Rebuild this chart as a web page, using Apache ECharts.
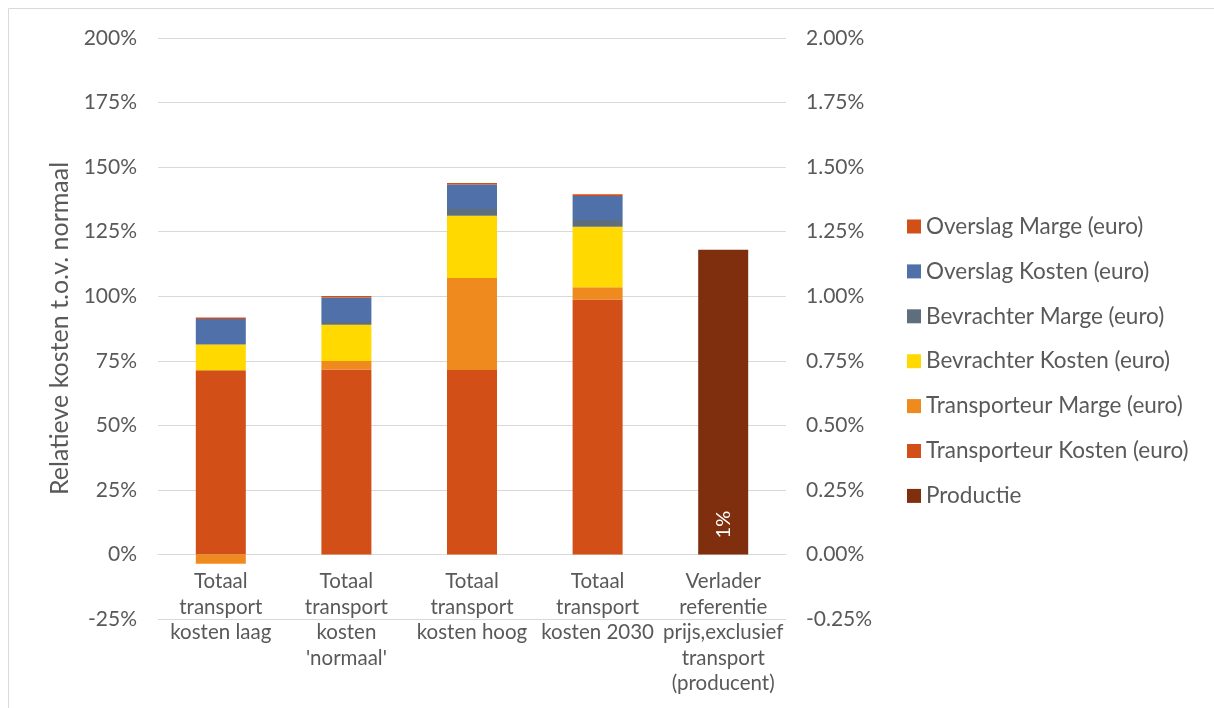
<!DOCTYPE html>
<html>
<head>
    <meta charset="utf-8">
    <title>Relatieve kosten t.o.v. normaal</title>
    <script src="https://cdn.jsdelivr.net/npm/echarts@6/dist/echarts.min.js"></script>
    <style>
        html, body { margin: 0; padding: 0; background: #fff; }
        #main { width: 1214px; height: 708px; }
    </style>
</head>
<body>
<div id="main"></div>
<script>
    // categorieen
    var categories = [
        'Totaal\ntransport\nkosten laag',
        "Totaal\ntransport\nkosten\n'normaal'",
        'Totaal\ntransport\nkosten hoog',
        'Totaal\ntransport\nkosten 2030',
        'Verlader\nreferentie\nprijs,exclusief\ntransport\n(producent)'
    ];
    // waarden in % (linker as)
    var transporteurKosten = [71.3, 71.6, 71.4, 98.7, null];
    var transporteurMarge = [-3.6, 3.3, 35.7, 4.8, null];
    var bevrachterKosten = [10.0, 14.1, 24.1, 23.4, null];
    var bevrachterMarge = [0.2, 1.0, 2.6, 2.6, null];
    var overslagKosten = [9.7, 9.5, 9.5, 9.3, null];
    var overslagMarge = [0.6, 0.6, 0.5, 0.7, null];
    // productie in % (rechter as)
    var productie = [null, null, null, null, 1.18];

    var leftTicks = { min: -25, max: 200, interval: 25 };
    var rightTicks = { min: -0.25, max: 2, interval: 0.25 };

    var fontFam = 'Lato, "Liberation Sans", sans-serif';
    var txt = '#595959';

    function stackBar(name, data, color) {
        return {
            name: name,
            type: 'bar',
            stack: 'kosten',
            yAxisIndex: 0,
            barWidth: 50,
            barGap: '-100%',
            itemStyle: { color: color },
            data: data
        };
    }

    var myChart = echarts.init(document.getElementById('main'));
    var option = {
        animation: false,
        textStyle: { fontFamily: fontFam },
        graphic: [{
            type: 'rect',
            shape: { x: 8.5, y: 8.5, width: 1230, height: 730 },
            style: { fill: 'none', stroke: '#d9d9d9', lineWidth: 1 },
            silent: true
        }],
        grid: { left: 158, right: 428, top: 38, bottom: 89, containLabel: false, outerBoundsMode: 'none' },
        legend: {
            orient: 'vertical',
            left: 902,
            top: 210,
            itemWidth: 14,
            itemHeight: 14,
            itemGap: 21.9,
            icon: 'rect',
            textStyle: { color: txt, fontSize: 22.5, fontFamily: fontFam, lineHeight: 22 },
            data: ['Overslag Marge (euro)', 'Overslag Kosten (euro)', 'Bevrachter Marge (euro)',
                'Bevrachter Kosten (euro)', 'Transporteur Marge (euro)', 'Transporteur Kosten (euro)', 'Productie']
        },
        xAxis: {
            type: 'category',
            data: categories,
            axisLine: { onZero: true, lineStyle: { color: '#d9d9d9' } },
            axisTick: { show: false },
            axisLabel: {
                interval: 0,
                color: txt,
                fontSize: 20.5,
                lineHeight: 25.5,
                // labels sit just under the 0% line, like the category axis crossing at 0
                margin: -50,
                fontFamily: fontFam
            }
        },
        yAxis: [{
            type: 'value',
            min: leftTicks.min,
            max: leftTicks.max,
            interval: leftTicks.interval,
            name: 'Relatieve kosten t.o.v. normaal',
            nameLocation: 'middle',
            nameGap: 84,
            nameTextStyle: { color: txt, fontSize: 25, fontFamily: fontFam },
            axisLine: { show: false },
            axisTick: { show: false },
            splitLine: { lineStyle: { color: '#d9d9d9', width: 1 } },
            axisLabel: {
                color: txt, fontSize: 21, margin: 21, fontFamily: fontFam,
                formatter: function (v) { return Math.round(v) + '%'; }
            }
        }, {
            type: 'value',
            position: 'right',
            min: rightTicks.min,
            max: rightTicks.max,
            interval: rightTicks.interval,
            axisLine: { show: false },
            axisTick: { show: false },
            splitLine: { show: false },
            axisLabel: {
                color: txt, fontSize: 21, margin: 20, fontFamily: fontFam,
                formatter: function (v) { return v.toFixed(2) + '%'; }
            }
        }],
        series: [
            stackBar('Transporteur Kosten (euro)', transporteurKosten, '#d24f17'),
            stackBar('Transporteur Marge (euro)', transporteurMarge, '#ef8a1f'),
            stackBar('Bevrachter Kosten (euro)', bevrachterKosten, '#ffd900'),
            stackBar('Bevrachter Marge (euro)', bevrachterMarge, '#5e6e7c'),
            stackBar('Overslag Kosten (euro)', overslagKosten, '#4f70a8'),
            stackBar('Overslag Marge (euro)', overslagMarge, '#d24f17'),
            {
                name: 'Productie',
                type: 'bar',
                yAxisIndex: 1,
                barWidth: 50,
                barGap: '-100%',
                itemStyle: { color: '#7f2f0e' },
                label: {
                    show: true,
                    position: 'insideBottom',
                    rotate: 90,
                    align: 'left',
                    verticalAlign: 'middle',
                    distance: 16,
                    color: '#ffffff',
                    fontSize: 20,
                    fontFamily: fontFam,
                    formatter: function (p) { return Math.round(p.value) + '%'; }
                },
                data: productie
            }
        ]
    };
    myChart.setOption(option);
</script>
</body>
</html>
